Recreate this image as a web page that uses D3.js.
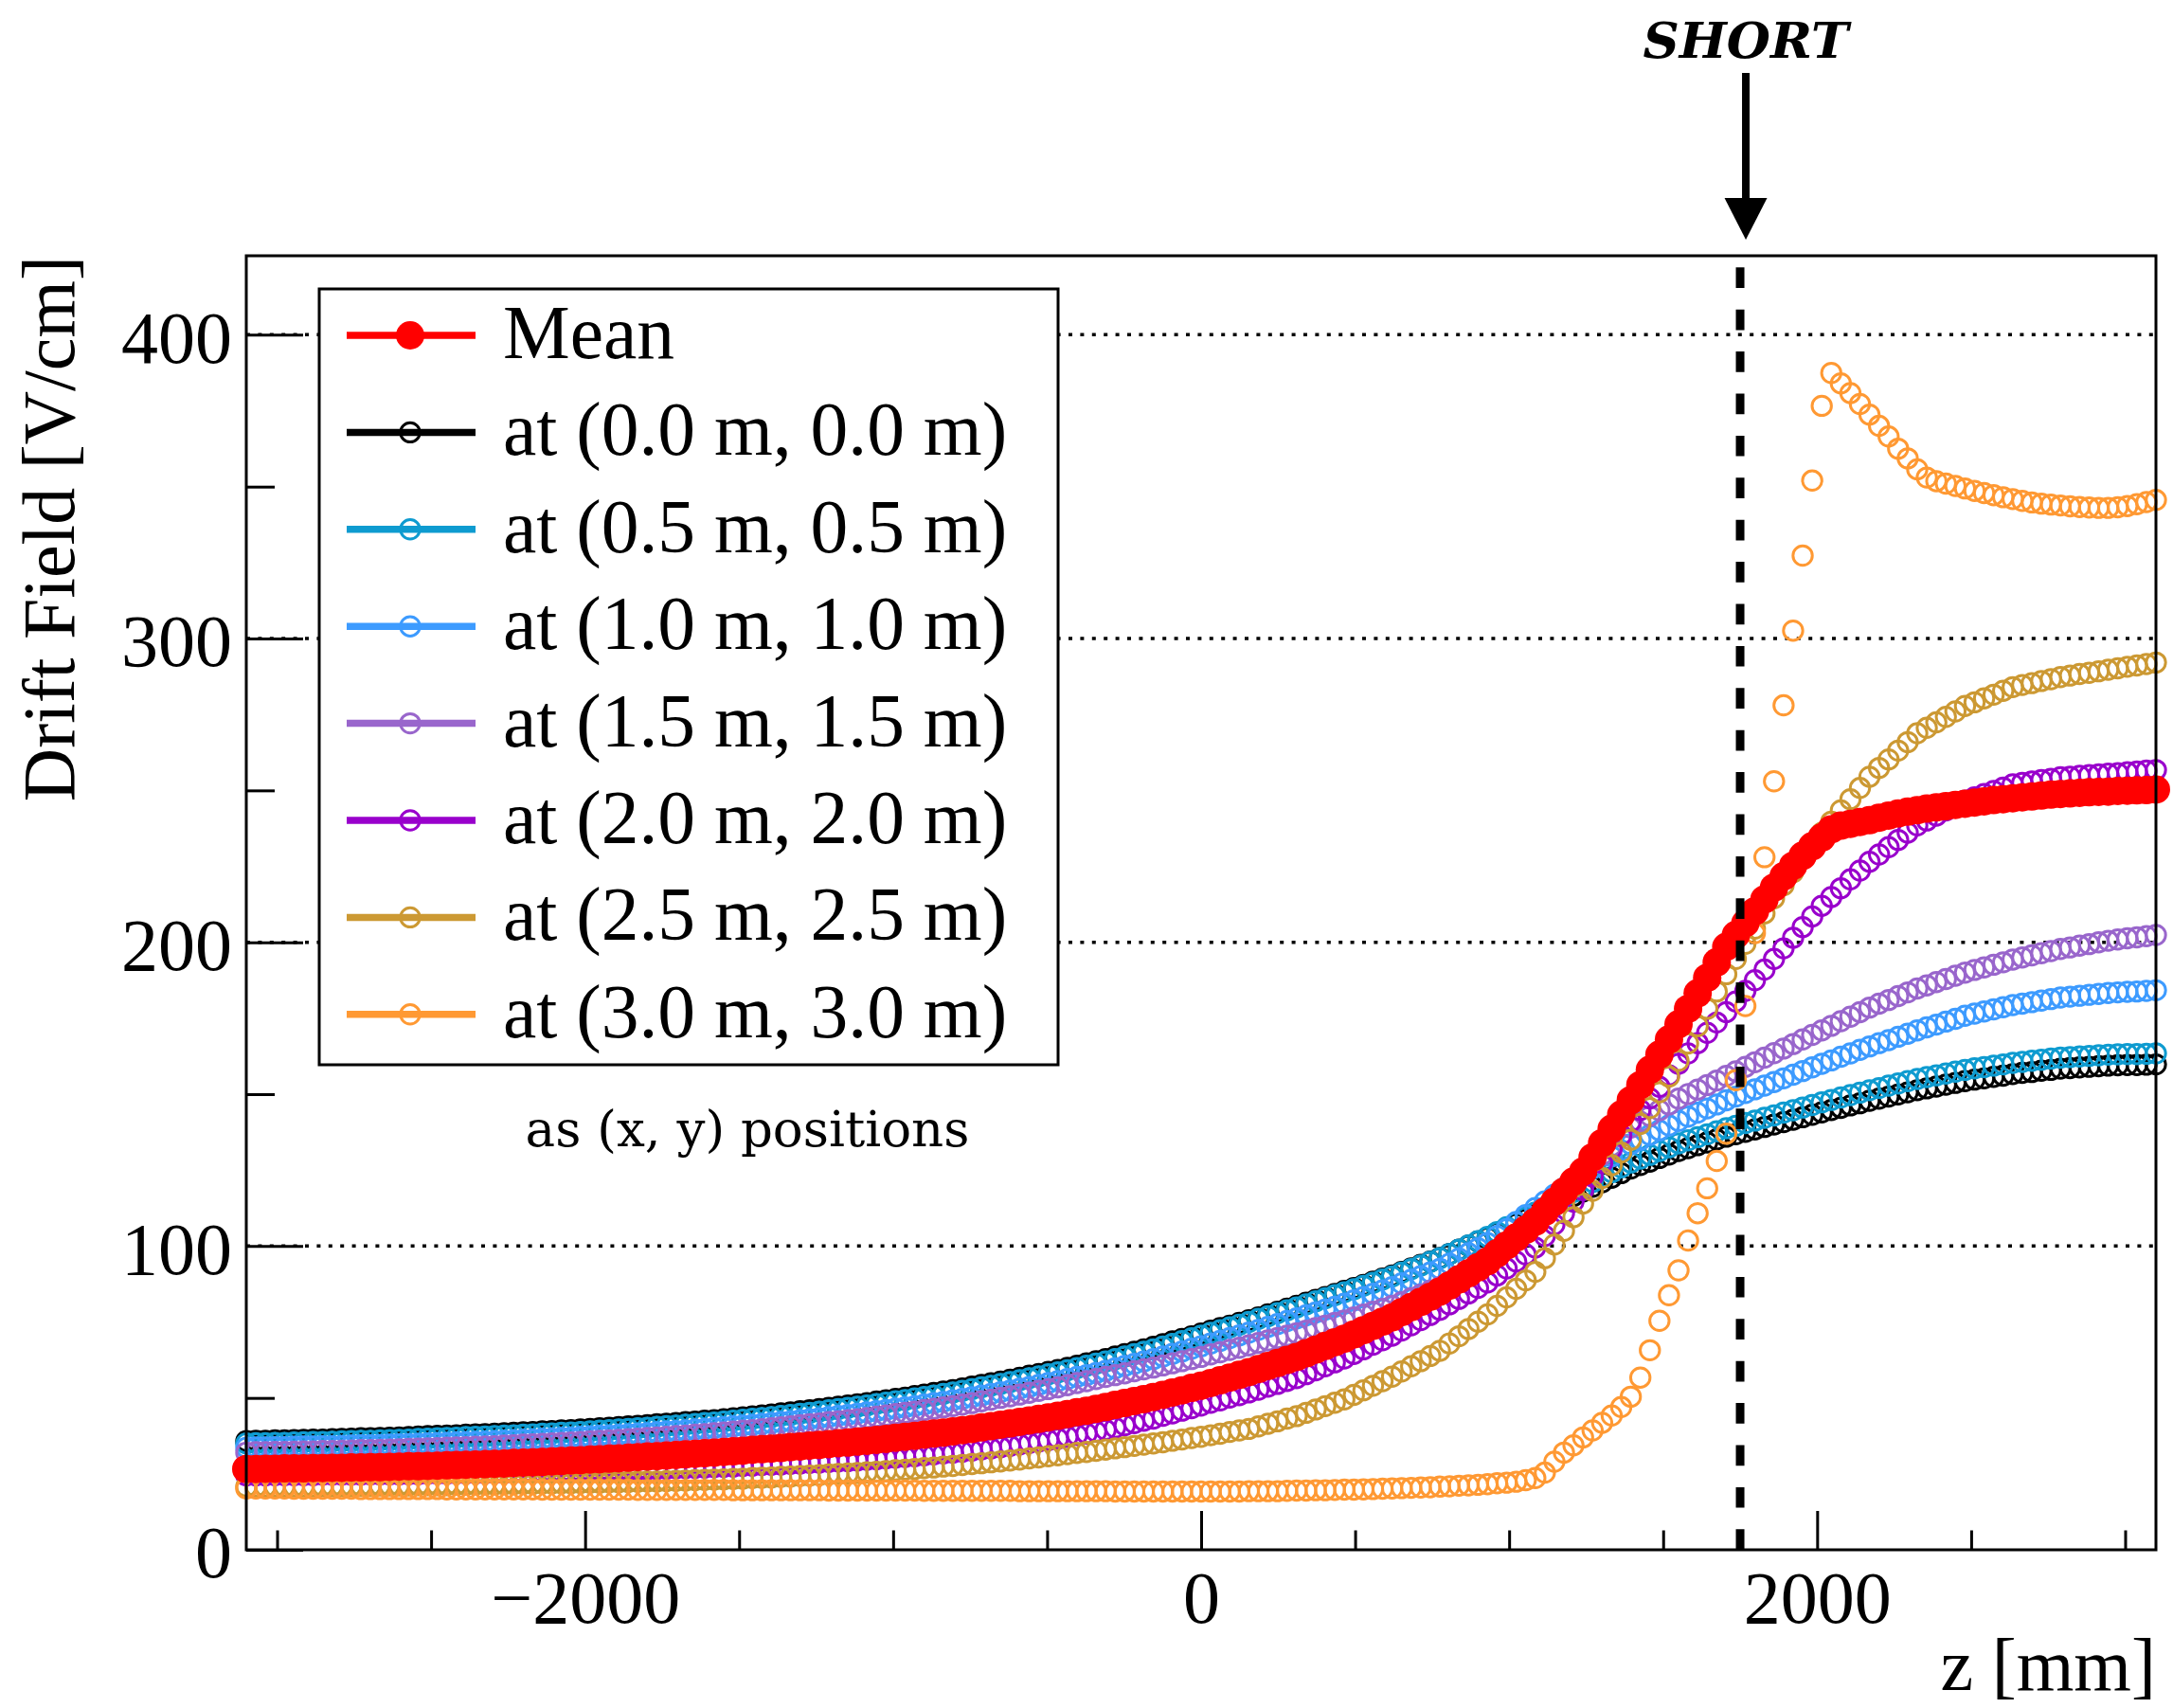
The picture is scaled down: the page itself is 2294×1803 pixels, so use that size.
<!DOCTYPE html>
<html>
<head>
<meta charset="utf-8">
<script src="https://cdn.jsdelivr.net/npm/d3@7"></script>
<style>
  html, body { margin: 0; padding: 0; background: #ffffff; }
  svg { display: block; }
</style>
</head>
<body>
<svg id="chart" width="2294" height="1803"></svg>
<script>
// Drift field along the drift direction z, sampled every 31 mm from -3100 mm to +3100 mm.
const zStart = -3100;
const zStep = 31;

// Field values [V/cm] at each z sample.
const meanField = [
  26.6, 26.6, 26.7, 26.7, 26.8, 26.8, 26.8, 26.9, 26.9, 27.0,
  27.0, 27.1, 27.1, 27.2, 27.2, 27.3, 27.4, 27.5, 27.5, 27.6,
  27.7, 27.8, 27.9, 28.0, 28.1, 28.2, 28.3, 28.4, 28.6, 28.7,
  28.8, 28.9, 29.1, 29.2, 29.4, 29.5, 29.7, 29.8, 30.0, 30.1,
  30.3, 30.5, 30.7, 30.8, 31.0, 31.2, 31.4, 31.6, 31.8, 32.0,
  32.2, 32.4, 32.6, 32.9, 33.1, 33.3, 33.5, 33.8, 34.0, 34.3,
  34.5, 34.8, 35.1, 35.3, 35.6, 35.9, 36.2, 36.5, 36.9, 37.2,
  37.5, 37.9, 38.3, 38.6, 39.0, 39.4, 39.8, 40.3, 40.7, 41.2,
  41.6, 42.1, 42.6, 43.1, 43.6, 44.1, 44.7, 45.3, 45.8, 46.4,
  47.0, 47.7, 48.3, 49.0, 49.6, 50.3, 51.0, 51.8, 52.5, 53.3,
  54.0, 54.9, 55.8, 56.7, 57.6, 58.5, 59.5, 60.5, 61.5, 62.5,
  63.5, 64.7, 65.9, 67.1, 68.3, 69.5, 70.9, 72.3, 73.7, 75.1,
  76.5, 78.2, 79.9, 81.6, 83.3, 85.0, 87.0, 89.0, 91.0, 93.0,
  95.0, 97.6, 100.2, 102.8, 105.4, 108.0, 111.3, 114.6, 117.9, 121.2,
  124.5, 129.2, 133.9, 138.6, 143.3, 148.0, 153.0, 158.0, 163.0, 168.0,
  173.0, 178.1, 183.2, 188.3, 193.4, 198.5, 202.4, 206.3, 210.2, 214.1,
  218.0, 221.7, 225.2, 228.5, 231.6, 234.5, 237.2, 238.4, 239.0, 239.6,
  240.2, 241.0, 241.7, 242.4, 243.0, 243.5, 244.0, 244.4, 244.8, 245.2,
  245.6, 246.0, 246.4, 246.8, 247.1, 247.4, 247.7, 248.0, 248.3, 248.6,
  248.8, 249.0, 249.2, 249.4, 249.5, 249.6, 249.8, 249.9, 250.0, 250.1,
  250.3
];

const field00 = [
  35.8, 35.9, 35.9, 36.0, 36.0, 36.1, 36.2, 36.3, 36.3, 36.4,
  36.5, 36.6, 36.7, 36.7, 36.8, 36.9, 37.0, 37.1, 37.3, 37.4,
  37.5, 37.6, 37.7, 37.9, 38.0, 38.1, 38.2, 38.4, 38.5, 38.7,
  38.8, 39.0, 39.1, 39.3, 39.4, 39.6, 39.8, 40.0, 40.2, 40.4,
  40.6, 40.8, 41.0, 41.3, 41.5, 41.7, 42.0, 42.2, 42.5, 42.7,
  43.0, 43.3, 43.6, 43.9, 44.2, 44.5, 44.9, 45.2, 45.6, 45.9,
  46.3, 46.7, 47.1, 47.5, 47.9, 48.3, 48.8, 49.2, 49.7, 50.1,
  50.6, 51.1, 51.6, 52.1, 52.6, 53.1, 53.7, 54.3, 54.8, 55.4,
  56.0, 56.6, 57.3, 57.9, 58.6, 59.2, 59.9, 60.6, 61.4, 62.1,
  62.8, 63.6, 64.4, 65.2, 66.0, 66.8, 67.7, 68.6, 69.4, 70.3,
  71.2, 72.1, 73.0, 73.8, 74.7, 75.6, 76.5, 77.5, 78.4, 79.4,
  80.3, 81.3, 82.3, 83.2, 84.2, 85.2, 86.2, 87.2, 88.3, 89.3,
  90.3, 91.5, 92.6, 93.8, 94.9, 96.1, 97.4, 98.8, 100.1, 101.5,
  102.8, 104.3, 105.8, 107.3, 108.8, 110.3, 111.8, 113.4, 114.9, 116.5,
  118.0, 119.5, 121.0, 122.5, 124.0, 125.5, 126.7, 127.8, 129.0, 130.1,
  131.3, 132.2, 133.2, 134.1, 135.1, 136.0, 136.8, 137.6, 138.4, 139.2,
  140.0, 140.8, 141.6, 142.4, 143.2, 144.0, 144.8, 145.5, 146.3, 147.0,
  147.8, 148.5, 149.2, 149.9, 150.6, 151.3, 151.9, 152.5, 153.1, 153.7,
  154.3, 154.8, 155.2, 155.7, 156.1, 156.6, 157.0, 157.3, 157.7, 158.0,
  158.4, 158.6, 158.8, 159.0, 159.2, 159.4, 159.5, 159.6, 159.6, 159.7,
  159.8
];

const field05 = [
  35.0, 35.1, 35.1, 35.2, 35.2, 35.3, 35.4, 35.5, 35.5, 35.6,
  35.7, 35.8, 35.9, 35.9, 36.0, 36.1, 36.2, 36.3, 36.5, 36.6,
  36.7, 36.8, 36.9, 37.1, 37.2, 37.3, 37.4, 37.6, 37.7, 37.9,
  38.0, 38.2, 38.3, 38.5, 38.6, 38.8, 39.0, 39.2, 39.4, 39.6,
  39.8, 40.0, 40.2, 40.5, 40.7, 40.9, 41.2, 41.4, 41.7, 41.9,
  42.2, 42.5, 42.8, 43.1, 43.4, 43.7, 44.1, 44.4, 44.8, 45.1,
  45.5, 45.9, 46.3, 46.7, 47.1, 47.5, 48.0, 48.4, 48.9, 49.3,
  49.8, 50.3, 50.8, 51.3, 51.8, 52.3, 52.9, 53.5, 54.0, 54.6,
  55.2, 55.8, 56.5, 57.1, 57.8, 58.4, 59.1, 59.8, 60.6, 61.3,
  62.0, 62.8, 63.6, 64.4, 65.2, 66.0, 66.9, 67.8, 68.7, 69.6,
  70.5, 71.4, 72.3, 73.2, 74.1, 75.0, 76.0, 76.9, 77.9, 78.8,
  79.8, 80.8, 81.8, 82.8, 83.8, 84.8, 85.8, 86.9, 87.9, 89.0,
  90.0, 91.2, 92.4, 93.6, 94.8, 96.0, 97.4, 98.8, 100.2, 101.6,
  103.0, 104.6, 106.2, 107.8, 109.4, 111.0, 112.7, 114.4, 116.1, 117.8,
  119.5, 121.1, 122.7, 124.3, 125.9, 127.5, 128.8, 130.0, 131.3, 132.5,
  133.8, 134.8, 135.8, 136.8, 137.8, 138.8, 139.6, 140.5, 141.3, 142.2,
  143.0, 143.9, 144.7, 145.6, 146.4, 147.3, 148.1, 148.9, 149.7, 150.5,
  151.3, 152.0, 152.8, 153.5, 154.3, 155.0, 155.6, 156.2, 156.8, 157.4,
  158.0, 158.5, 158.9, 159.4, 159.8, 160.3, 160.6, 161.0, 161.3, 161.7,
  162.0, 162.2, 162.4, 162.6, 162.8, 163.0, 163.1, 163.2, 163.2, 163.3,
  163.4
];

const field10 = [
  33.6, 33.7, 33.7, 33.8, 33.8, 33.9, 34.0, 34.0, 34.1, 34.1,
  34.2, 34.3, 34.4, 34.4, 34.5, 34.6, 34.7, 34.8, 34.9, 35.0,
  35.1, 35.2, 35.3, 35.4, 35.5, 35.6, 35.7, 35.9, 36.0, 36.2,
  36.3, 36.5, 36.6, 36.8, 36.9, 37.1, 37.3, 37.5, 37.6, 37.8,
  38.0, 38.2, 38.4, 38.7, 38.9, 39.1, 39.3, 39.6, 39.8, 40.1,
  40.3, 40.6, 40.9, 41.1, 41.4, 41.7, 42.0, 42.3, 42.7, 43.0,
  43.3, 43.7, 44.1, 44.4, 44.8, 45.2, 45.6, 46.0, 46.5, 46.9,
  47.3, 47.8, 48.3, 48.7, 49.2, 49.7, 50.2, 50.8, 51.3, 51.9,
  52.4, 53.0, 53.6, 54.3, 54.9, 55.5, 56.2, 56.9, 57.5, 58.2,
  58.9, 59.7, 60.5, 61.2, 62.0, 62.8, 63.6, 64.5, 65.3, 66.2,
  67.0, 67.9, 68.8, 69.7, 70.6, 71.5, 72.4, 73.4, 74.3, 75.3,
  76.2, 77.2, 78.1, 79.1, 80.0, 81.0, 82.1, 83.2, 84.3, 85.4,
  86.5, 87.7, 88.9, 90.1, 91.3, 92.5, 94.2, 95.9, 97.6, 99.3,
  101.0, 103.3, 105.6, 107.9, 110.2, 112.5, 114.7, 116.9, 119.1, 121.3,
  123.5, 125.5, 127.5, 129.5, 131.5, 133.5, 135.0, 136.6, 138.1, 139.7,
  141.2, 142.6, 143.9, 145.3, 146.6, 148.0, 149.2, 150.4, 151.6, 152.8,
  154.0, 155.2, 156.4, 157.6, 158.8, 160.0, 161.1, 162.3, 163.4, 164.6,
  165.7, 166.8, 167.8, 168.9, 169.9, 171.0, 172.0, 172.9, 173.9, 174.8,
  175.8, 176.5, 177.2, 177.9, 178.6, 179.3, 179.8, 180.3, 180.8, 181.3,
  181.8, 182.1, 182.4, 182.7, 183.0, 183.3, 183.5, 183.7, 183.8, 184.0,
  184.2
];

const field15 = [
  32.0, 32.1, 32.1, 32.2, 32.2, 32.3, 32.4, 32.4, 32.5, 32.5,
  32.6, 32.7, 32.8, 32.8, 32.9, 33.0, 33.1, 33.2, 33.3, 33.4,
  33.5, 33.6, 33.7, 33.8, 33.9, 34.0, 34.1, 34.3, 34.4, 34.6,
  34.7, 34.9, 35.0, 35.2, 35.3, 35.5, 35.7, 35.9, 36.0, 36.2,
  36.4, 36.6, 36.8, 37.0, 37.2, 37.4, 37.6, 37.9, 38.1, 38.4,
  38.6, 38.9, 39.2, 39.4, 39.7, 40.0, 40.3, 40.6, 41.0, 41.3,
  41.6, 42.0, 42.3, 42.7, 43.0, 43.4, 43.8, 44.2, 44.7, 45.1,
  45.5, 46.0, 46.4, 46.9, 47.3, 47.8, 48.3, 48.9, 49.4, 50.0,
  50.5, 51.1, 51.7, 52.3, 52.9, 53.5, 54.2, 54.9, 55.5, 56.2,
  56.9, 57.5, 58.1, 58.8, 59.4, 60.0, 60.7, 61.4, 62.1, 62.8,
  63.5, 64.3, 65.0, 65.8, 66.5, 67.3, 68.1, 68.9, 69.7, 70.5,
  71.3, 72.1, 73.0, 73.8, 74.7, 75.5, 76.5, 77.4, 78.4, 79.3,
  80.3, 81.5, 82.8, 84.0, 85.3, 86.5, 88.2, 89.9, 91.6, 93.3,
  95.0, 97.5, 100.0, 102.5, 105.0, 107.5, 110.8, 114.1, 117.4, 120.7,
  124.0, 127.0, 130.0, 133.0, 136.0, 139.0, 140.9, 142.8, 144.7, 146.6,
  148.5, 150.0, 151.5, 153.0, 154.5, 156.0, 157.5, 159.0, 160.5, 162.0,
  163.5, 165.0, 166.5, 168.0, 169.5, 171.0, 172.5, 174.0, 175.5, 177.0,
  178.5, 179.8, 181.0, 182.3, 183.5, 184.8, 185.8, 186.9, 187.9, 189.0,
  190.0, 190.9, 191.7, 192.6, 193.4, 194.3, 195.0, 195.7, 196.4, 197.1,
  197.8, 198.3, 198.9, 199.4, 200.0, 200.5, 200.9, 201.3, 201.6, 202.0,
  202.4
];

const field20 = [
  24.5, 24.5, 24.5, 24.6, 24.6, 24.6, 24.6, 24.6, 24.7, 24.7,
  24.7, 24.7, 24.7, 24.8, 24.8, 24.8, 24.8, 24.9, 24.9, 25.0,
  25.0, 25.0, 25.1, 25.1, 25.2, 25.2, 25.3, 25.3, 25.4, 25.4,
  25.5, 25.6, 25.7, 25.7, 25.8, 25.9, 26.0, 26.1, 26.1, 26.2,
  26.3, 26.4, 26.5, 26.6, 26.7, 26.8, 26.9, 27.0, 27.1, 27.2,
  27.3, 27.4, 27.6, 27.7, 27.9, 28.0, 28.1, 28.3, 28.4, 28.6,
  28.7, 28.9, 29.1, 29.2, 29.4, 29.6, 29.8, 30.1, 30.3, 30.6,
  30.8, 31.1, 31.4, 31.7, 32.0, 32.3, 32.7, 33.1, 33.4, 33.8,
  34.2, 34.7, 35.2, 35.6, 36.1, 36.6, 37.2, 37.8, 38.3, 38.9,
  39.5, 40.2, 41.0, 41.7, 42.5, 43.2, 44.1, 44.9, 45.8, 46.6,
  47.5, 48.4, 49.2, 50.1, 50.9, 51.8, 52.7, 53.7, 54.6, 55.6,
  56.5, 57.8, 59.1, 60.4, 61.7, 63.0, 64.5, 66.0, 67.5, 69.0,
  70.5, 72.2, 73.9, 75.6, 77.3, 79.0, 80.8, 82.6, 84.4, 86.2,
  88.0, 90.3, 92.6, 94.9, 97.2, 99.5, 103.3, 107.1, 110.8, 114.6,
  118.4, 122.9, 127.4, 132.0, 136.5, 141.0, 144.8, 148.6, 152.4, 156.2,
  160.0, 163.4, 166.8, 170.2, 173.6, 177.0, 180.5, 184.0, 187.5, 191.0,
  194.5, 198.0, 201.5, 205.0, 208.5, 212.0, 214.9, 217.8, 220.7, 223.6,
  226.5, 228.9, 231.3, 233.7, 236.1, 238.5, 240.1, 241.7, 243.4, 245.0,
  246.6, 247.7, 248.8, 249.8, 250.9, 252.0, 252.5, 252.9, 253.4, 253.8,
  254.3, 254.5, 254.8, 255.0, 255.3, 255.5, 255.7, 256.0, 256.2, 256.5,
  256.7
];

const field25 = [
  20.8, 20.8, 20.8, 20.9, 20.9, 20.9, 20.9, 20.9, 21.0, 21.0,
  21.0, 21.0, 21.1, 21.1, 21.2, 21.2, 21.2, 21.2, 21.3, 21.3,
  21.3, 21.3, 21.4, 21.4, 21.5, 21.5, 21.5, 21.6, 21.6, 21.7,
  21.7, 21.8, 21.8, 21.9, 21.9, 22.0, 22.1, 22.1, 22.2, 22.2,
  22.3, 22.4, 22.5, 22.5, 22.6, 22.7, 22.8, 22.9, 23.0, 23.1,
  23.2, 23.3, 23.4, 23.6, 23.7, 23.8, 24.0, 24.1, 24.3, 24.4,
  24.6, 24.8, 25.0, 25.1, 25.3, 25.5, 25.7, 25.9, 26.2, 26.4,
  26.6, 26.9, 27.1, 27.4, 27.6, 27.9, 28.2, 28.5, 28.8, 29.1,
  29.4, 29.7, 30.1, 30.4, 30.8, 31.1, 31.5, 31.9, 32.2, 32.6,
  33.0, 33.4, 33.8, 34.2, 34.6, 35.0, 35.4, 35.9, 36.3, 36.8,
  37.2, 37.7, 38.2, 38.8, 39.3, 39.8, 40.6, 41.5, 42.3, 43.2,
  44.0, 45.1, 46.2, 47.3, 48.4, 49.5, 51.0, 52.5, 54.0, 55.5,
  57.0, 58.7, 60.4, 62.1, 63.8, 65.5, 67.9, 70.3, 72.7, 75.1,
  77.5, 80.3, 83.1, 85.9, 88.7, 91.5, 96.0, 100.5, 105.0, 109.5,
  114.0, 118.2, 122.4, 126.6, 130.8, 135.0, 140.2, 145.4, 150.6, 155.8,
  161.0, 166.7, 172.4, 178.1, 183.8, 189.5, 194.5, 199.5, 204.5, 209.5,
  214.5, 218.8, 223.1, 227.4, 231.7, 236.0, 239.7, 243.4, 247.1, 250.8,
  254.5, 257.4, 260.2, 263.1, 265.9, 268.8, 270.6, 272.4, 274.2, 276.0,
  277.8, 279.0, 280.3, 281.5, 282.8, 284.0, 284.7, 285.3, 286.0, 286.6,
  287.3, 287.8, 288.3, 288.7, 289.2, 289.7, 290.2, 290.7, 291.1, 291.6,
  292.1
];

const field30 = [
  20.2, 20.2, 20.2, 20.2, 20.2, 20.1, 20.1, 20.1, 20.1, 20.1,
  20.1, 20.1, 20.0, 20.0, 20.0, 20.0, 20.0, 20.0, 20.0, 20.0,
  20.0, 19.9, 19.9, 19.9, 19.9, 19.9, 19.9, 19.9, 19.9, 19.9,
  19.9, 19.8, 19.8, 19.8, 19.8, 19.8, 19.8, 19.8, 19.8, 19.8,
  19.8, 19.7, 19.7, 19.7, 19.7, 19.7, 19.7, 19.7, 19.7, 19.7,
  19.7, 19.6, 19.6, 19.6, 19.6, 19.6, 19.6, 19.6, 19.6, 19.6,
  19.6, 19.5, 19.5, 19.5, 19.5, 19.5, 19.5, 19.5, 19.5, 19.5,
  19.5, 19.4, 19.4, 19.4, 19.4, 19.4, 19.4, 19.4, 19.4, 19.4,
  19.4, 19.3, 19.3, 19.3, 19.3, 19.3, 19.3, 19.3, 19.3, 19.3,
  19.3, 19.2, 19.2, 19.2, 19.2, 19.2, 19.2, 19.2, 19.2, 19.2,
  19.2, 19.2, 19.2, 19.2, 19.2, 19.3, 19.3, 19.3, 19.3, 19.4,
  19.5, 19.5, 19.6, 19.6, 19.7, 19.8, 19.8, 19.9, 20.0, 20.1,
  20.2, 20.3, 20.4, 20.5, 20.6, 20.8, 20.9, 21.1, 21.2, 21.4,
  21.6, 21.9, 22.1, 22.4, 22.9, 23.6, 25.4, 29.0, 32.0, 34.4,
  37.0, 39.3, 41.8, 44.2, 47.0, 50.4, 56.7, 65.7, 75.4, 83.8,
  92.0, 101.8, 110.8, 119.0, 128.0, 137.0, 154.6, 179.0, 203.0, 228.0,
  253.0, 278.0, 302.6, 327.3, 352.0, 376.6, 387.4, 384.0, 380.8, 377.2,
  373.7, 370.0, 366.5, 362.5, 359.3, 355.7, 353.0, 351.8, 351.0, 350.2,
  349.4, 348.6, 347.9, 347.2, 346.5, 345.9, 345.3, 344.8, 344.4, 344.1,
  343.8, 343.5, 343.3, 343.1, 343.0, 343.0, 343.2, 343.6, 344.2, 344.9,
  345.6
];

// Labels and axis ticks
const legendLabels = [
  "Mean",
  "at (0.0 m, 0.0 m)",
  "at (0.5 m, 0.5 m)",
  "at (1.0 m, 1.0 m)",
  "at (1.5 m, 1.5 m)",
  "at (2.0 m, 2.0 m)",
  "at (2.5 m, 2.5 m)",
  "at (3.0 m, 3.0 m)"
];
const seriesColors = ["#ff0000", "#000000", "#0e9bd0", "#3d9bff", "#9966cc", "#9900cc", "#cc9933", "#ff9933"];
const xMajorTicks = [-2000, 0, 2000];
const xMinorTicks = [-3000, -2500, -1500, -1000, -500, 500, 1000, 1500, 2500, 3000];
const yMajorTicks = [0, 100, 200, 300, 400];
const yMinorTicks = [50, 150, 250, 350];
const yGridLines = [100, 200, 300, 400];
const shortZ = 1750;

// ---- layout ----
const frame = { left: 260, right: 2276, top: 270, bottom: 1636 };
const serif = "'Liberation Serif', 'Times New Roman', serif";
const fontSize = 78;

const svg = d3.select("#chart");
svg.append("rect").attr("width", 2294).attr("height", 1803).attr("fill", "#ffffff");

const x = d3.scaleLinear().domain([-3100, 3100]).range([frame.left, frame.right]);
const y = d3.scaleLinear().domain([0, 426]).range([frame.bottom, frame.top]);

const zOf = i => zStart + i * zStep;

// Series in drawing order: individual positions first, mean on top.
const positions = [
  { values: field00, color: seriesColors[1] },
  { values: field05, color: seriesColors[2] },
  { values: field10, color: seriesColors[3] },
  { values: field15, color: seriesColors[4] },
  { values: field20, color: seriesColors[5] },
  { values: field25, color: seriesColors[6] },
  { values: field30, color: seriesColors[7] }
];

const openR = 10.2, openW = 3, filledR = 15;

// ---- horizontal dotted grid ----
svg.append("g").selectAll("line")
  .data(yGridLines)
  .join("line")
  .attr("x1", frame.left).attr("x2", frame.right)
  .attr("y1", d => y(d)).attr("y2", d => y(d))
  .attr("stroke", "#000").attr("stroke-width", 3.5)
  .attr("stroke-dasharray", "4 8.4");

// ---- open-circle markers for each (x, y) position ----
const markers = svg.append("g");
positions.forEach(s => {
  markers.append("g").selectAll("circle")
    .data(s.values)
    .join("circle")
    .attr("cx", (d, i) => x(zOf(i)))
    .attr("cy", d => y(d))
    .attr("r", openR)
    .attr("fill", "none")
    .attr("stroke", s.color)
    .attr("stroke-width", openW);
});

// ---- mean: filled circles ----
markers.append("g").selectAll("circle")
  .data(meanField)
  .join("circle")
  .attr("cx", (d, i) => x(zOf(i)))
  .attr("cy", d => y(d))
  .attr("r", filledR)
  .attr("fill", seriesColors[0]);

// ---- short position: dashed vertical line ----
svg.append("line")
  .attr("x1", x(shortZ)).attr("x2", x(shortZ))
  .attr("y1", frame.bottom).attr("y2", frame.top)
  .attr("stroke", "#000").attr("stroke-width", 9)
  .attr("stroke-dasharray", "21.7 22.7");

// ---- frame ----
svg.append("rect")
  .attr("x", frame.left).attr("y", frame.top)
  .attr("width", frame.right - frame.left).attr("height", frame.bottom - frame.top)
  .attr("fill", "none").attr("stroke", "#000").attr("stroke-width", 3);

// ---- axes ----
function styleAxis(g) {
  g.select(".domain").remove();
  g.selectAll(".tick line").attr("stroke", "#000").attr("stroke-width", 3);
  g.selectAll(".tick text")
    .attr("font-family", serif).attr("font-size", fontSize).attr("fill", "#000");
}

const gY = svg.append("g").attr("transform", `translate(${frame.left},0)`)
  .call(d3.axisLeft(y).tickValues(yMajorTicks).tickSize(-60).tickPadding(15).tickFormat(d3.format("d")));
styleAxis(gY);
gY.selectAll(".tick text").attr("dy", "0.37em");

const gYm = svg.append("g").attr("transform", `translate(${frame.left},0)`)
  .call(d3.axisLeft(y).tickValues(yMinorTicks).tickSize(-30).tickFormat(""));
styleAxis(gYm);

const gX = svg.append("g").attr("transform", `translate(0,${frame.bottom})`)
  .call(d3.axisBottom(x).tickValues(xMajorTicks).tickSize(-41).tickPadding(22).tickFormat(d3.format("d")));
styleAxis(gX);

const gXm = svg.append("g").attr("transform", `translate(0,${frame.bottom})`)
  .call(d3.axisBottom(x).tickValues(xMinorTicks).tickSize(-20.5).tickFormat(""));
styleAxis(gXm);

// axis titles
svg.append("text")
  .attr("transform", `translate(78,${frame.top}) rotate(-90)`)
  .attr("text-anchor", "end")
  .attr("font-family", serif).attr("font-size", fontSize)
  .text("Drift Field [V/cm]");

svg.append("text")
  .attr("x", frame.right).attr("y", 1784)
  .attr("text-anchor", "end")
  .attr("font-family", serif).attr("font-size", fontSize)
  .text("z [mm]");

// ---- legend ----
const legend = { x: 337, y: 305, w: 780, h: 819, row0: 354, rowStep: 102.4 };
svg.append("rect")
  .attr("x", legend.x).attr("y", legend.y)
  .attr("width", legend.w).attr("height", legend.h)
  .attr("fill", "#fff").attr("stroke", "#000").attr("stroke-width", 3);

const rows = svg.append("g").selectAll("g")
  .data(legendLabels.map((label, i) => ({ label, color: seriesColors[i], filled: i === 0 })))
  .join("g")
  .attr("transform", (d, i) => `translate(0,${legend.row0 + i * legend.rowStep})`);

rows.append("line")
  .attr("x1", 366).attr("x2", 502).attr("y1", 0).attr("y2", 0)
  .attr("stroke", d => d.color).attr("stroke-width", 7.5);

rows.append("circle")
  .attr("cx", 433).attr("cy", 0)
  .attr("r", d => d.filled ? filledR : openR)
  .attr("fill", d => d.filled ? d.color : "none")
  .attr("stroke", d => d.filled ? "none" : d.color)
  .attr("stroke-width", openW);

rows.append("text")
  .attr("x", 531).attr("y", 24)
  .attr("font-family", serif).attr("font-size", 79.5)
  .text(d => d.label);

svg.append("text")
  .attr("x", 789).attr("y", 1210)
  .attr("text-anchor", "middle")
  .attr("font-family", "'DejaVu Serif', serif").attr("font-size", 53)
  .text("as (x, y) positions");

// ---- "SHORT" annotation with arrow ----
const arrowX = x(shortZ) + 6;
svg.append("line")
  .attr("x1", arrowX).attr("x2", arrowX)
  .attr("y1", 77).attr("y2", 215)
  .attr("stroke", "#000").attr("stroke-width", 8);
svg.append("path")
  .attr("d", `M${arrowX - 22.5},209 L${arrowX + 22.5},209 L${arrowX},253 Z`)
  .attr("fill", "#000");
svg.append("text")
  .attr("x", arrowX).attr("y", 61)
  .attr("text-anchor", "middle")
  .attr("font-family", "'DejaVu Serif', serif")
  .attr("font-weight", "bold").attr("font-style", "italic")
  .attr("font-size", 53)
  .text("SHORT");
</script>
</body>
</html>
